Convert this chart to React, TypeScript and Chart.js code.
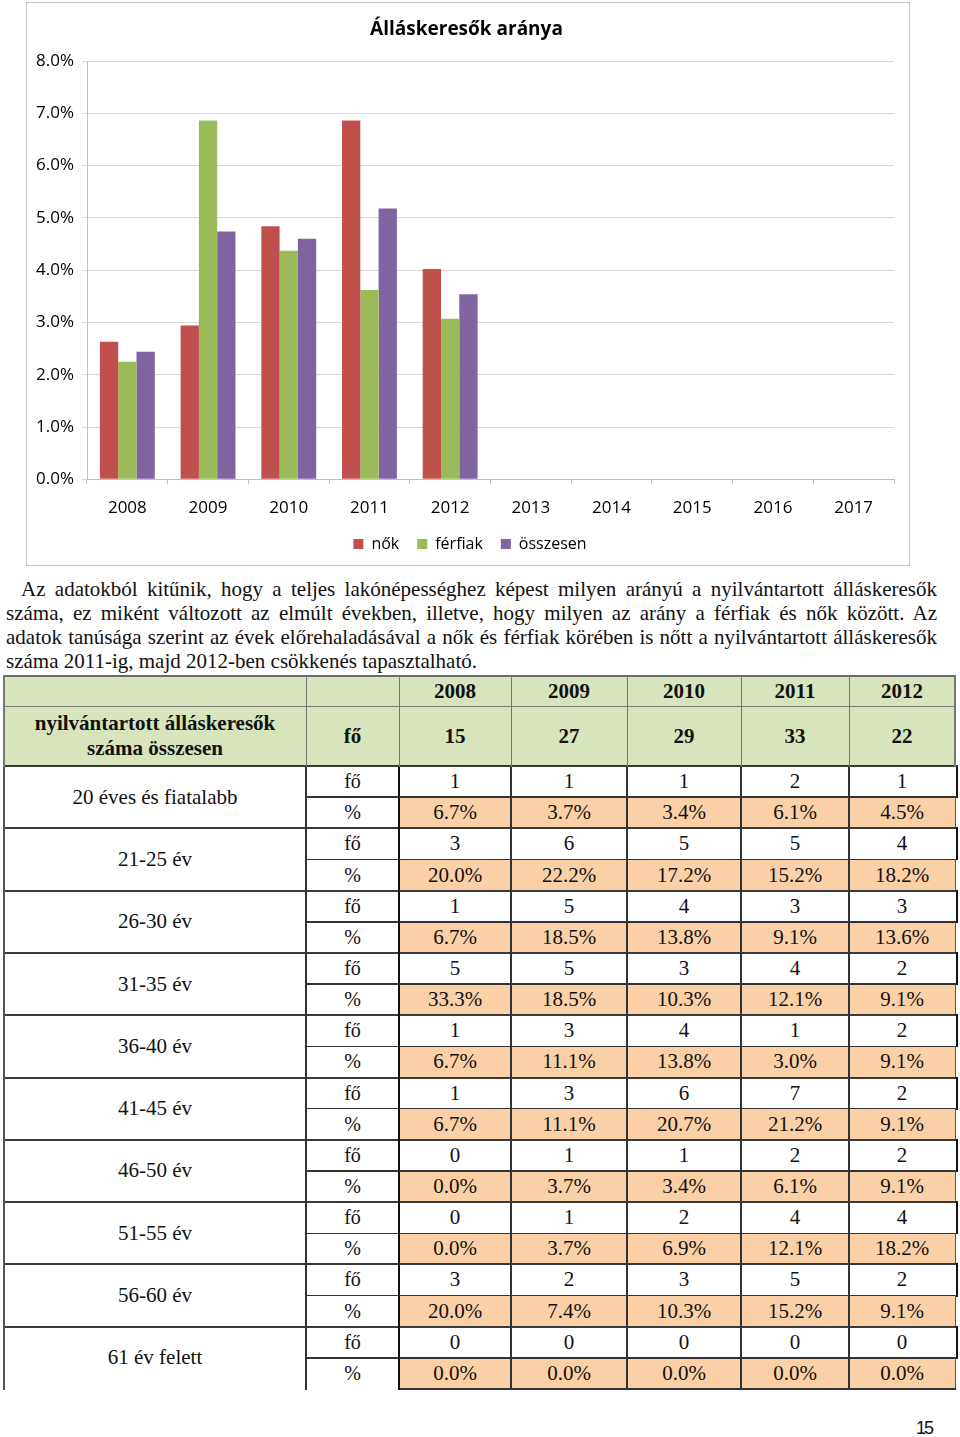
import React, { useEffect, useRef } from "react";
import { Chart, registerables } from "chart.js";

Chart.register(...registerables);

// ---------- chart data ----------
const chartTitle = "Álláskeresők aránya";
const years = ["2008", "2009", "2010", "2011", "2012", "2013", "2014", "2015", "2016", "2017"];
const nok = [2.63, 2.94, 4.84, 6.86, 4.02, null, null, null, null, null];
const ferfiak = [2.25, 6.86, 4.37, 3.62, 3.07, null, null, null, null, null];
const osszesen = [2.44, 4.74, 4.6, 5.18, 3.54, null, null, null, null, null];
const seriesNames = ["nők", "férfiak", "összesen"];
const seriesColors = ["#c0504d", "#9bbb59", "#8064a2"];

// ---------- text ----------
const paragraphLines = [
  "Az adatokból kitűnik, hogy a teljes lakónépességhez képest milyen arányú a nyilvántartott álláskeresők",
  "száma, ez miként változott az elmúlt években, illetve, hogy milyen az arány a férfiak és nők között. Az",
  "adatok tanúsága szerint az évek előrehaladásával a nők és férfiak körében is nőtt a nyilvántartott álláskeresők",
  "száma 2011-ig, majd 2012-ben csökkenés tapasztalható.",
];

// ---------- table data ----------
const tableYears = ["2008", "2009", "2010", "2011", "2012"];
const totalLabel = ["nyilvántartott álláskeresők", "száma összesen"];
const totalCounts = ["15", "27", "29", "33", "22"];
const ageGroups = [
  "20 éves és fiatalabb",
  "21-25 év",
  "26-30 év",
  "31-35 év",
  "36-40 év",
  "41-45 év",
  "46-50 év",
  "51-55 év",
  "56-60 év",
  "61 év felett",
];
const groupCounts = [
  ["1", "1", "1", "2", "1"],
  ["3", "6", "5", "5", "4"],
  ["1", "5", "4", "3", "3"],
  ["5", "5", "3", "4", "2"],
  ["1", "3", "4", "1", "2"],
  ["1", "3", "6", "7", "2"],
  ["0", "1", "1", "2", "2"],
  ["0", "1", "2", "4", "4"],
  ["3", "2", "3", "5", "2"],
  ["0", "0", "0", "0", "0"],
];
const groupPercents = [
  ["6.7%", "3.7%", "3.4%", "6.1%", "4.5%"],
  ["20.0%", "22.2%", "17.2%", "15.2%", "18.2%"],
  ["6.7%", "18.5%", "13.8%", "9.1%", "13.6%"],
  ["33.3%", "18.5%", "10.3%", "12.1%", "9.1%"],
  ["6.7%", "11.1%", "13.8%", "3.0%", "9.1%"],
  ["6.7%", "11.1%", "20.7%", "21.2%", "9.1%"],
  ["0.0%", "3.7%", "3.4%", "6.1%", "9.1%"],
  ["0.0%", "3.7%", "6.9%", "12.1%", "18.2%"],
  ["20.0%", "7.4%", "10.3%", "15.2%", "9.1%"],
  ["0.0%", "0.0%", "0.0%", "0.0%", "0.0%"],
];
const unitPerson = "fő";
const unitPercent = "%";
const pageNumber = "15";

// ---------- layout constants ----------
const COLS = [4, 306, 399, 511, 627, 741, 849, 955];
const T_TOP = 676;
const T_HEAD = 706;
const T_TOTAL = 766;
const GROUP_H = 62.3;
const SUB_H = GROUP_H / 2;
const GREEN = "#d7e4bc";
const ORANGE = "#fcd0a6";
const SERIF = "'Liberation Serif', 'Times New Roman', serif";
const SANS = "'Open Sans', 'Noto Sans', sans-serif";

// shifts the centred title / legend slightly right (they are centred on the page box, not the plot)
const centerShift = {
  id: "centerShift",
  afterLayout(chart: any) {
    const t = chart.titleBlock;
    if (t) {
      t.left += 3.5;
      t.right += 3.5;
    }
    const l = chart.legend;
    if (l) {
      l.left += 7;
      l.right += 7;
    }
  },
};

function BarChart() {
  const ref = useRef<HTMLCanvasElement>(null);
  useEffect(() => {
    if (!ref.current) return;
    const chart = new Chart(ref.current, {
      type: "bar",
      data: {
        labels: years,
        datasets: [
          { label: seriesNames[0], data: nok, backgroundColor: seriesColors[0] },
          { label: seriesNames[1], data: ferfiak, backgroundColor: seriesColors[1] },
          { label: seriesNames[2], data: osszesen, backgroundColor: seriesColors[2] },
        ],
      },
      plugins: [centerShift],
      options: {
        responsive: false,
        animation: false,
        layout: { padding: { left: 6, right: 16, top: 0, bottom: 0 } },
        datasets: { bar: { categoryPercentage: 0.68, barPercentage: 1 } },
        plugins: {
          title: {
            display: true,
            text: chartTitle,
            color: "#000",
            font: { family: SANS, size: 19, weight: "bold" },
            padding: { top: 16.6, bottom: 19.6 },
          },
          legend: {
            position: "bottom",
            labels: {
              boxWidth: 10,
              boxHeight: 10,
              padding: 18,
              color: "#000",
              font: { family: SANS, size: 16 },
            },
          },
          tooltip: { enabled: false },
        },
        scales: {
          x: {
            grid: { drawOnChartArea: false, drawTicks: true, tickLength: 5, color: "#bfbfbf" },
            border: { color: "#bfbfbf" },
            ticks: { color: "#000", font: { family: SANS, size: 17 }, padding: 14, maxRotation: 0, autoSkip: false },
            afterFit: (s: any) => {
              s.height = 38.7;
            },
          },
          y: {
            min: 0,
            max: 8,
            ticks: {
              stepSize: 1,
              color: "#000",
              font: { family: SANS, size: 17 },
              padding: 8,
              callback: (v: any) => Number(v).toFixed(1) + "%",
            },
            grid: { color: "#d9d9d9", tickLength: 5 },
            border: { color: "#bfbfbf" },
            afterFit: (s: any) => {
              s.width = 55;
            },
          },
        },
      },
    });
    return () => chart.destroy();
  }, []);
  return (
    <canvas
      ref={ref}
      width={884}
      height={560}
      style={{ position: "absolute", left: 26, top: 2, width: 884, height: 560 }}
    />
  );
}

function Rect({ x1, x2, y1, y2, bg }: any) {
  return <div style={{ position: "absolute", left: x1, top: y1, width: x2 - x1, height: y2 - y1, background: bg }} />;
}

function Txt({ x1, x2, y1, y2, children, bold, size = 21 }: any) {
  return (
    <div
      style={{
        position: "absolute",
        left: x1,
        top: y1,
        width: x2 - x1,
        height: y2 - y1,
        display: "flex",
        alignItems: "center",
        justifyContent: "center",
        textAlign: "center",
        fontFamily: SERIF,
        fontSize: size,
        fontWeight: bold ? "bold" : "normal",
        lineHeight: "25px",
        color: "#111",
        whiteSpace: "nowrap",
      }}
    >
      {children}
    </div>
  );
}

function H({ x1, x2, y, t = 1.5, c = "#333" }: any) {
  return <div style={{ position: "absolute", left: x1 - t / 2, top: y - t / 2, width: x2 - x1 + t, height: t, background: c }} />;
}
function V({ x, y1, y2, t = 1.5, c = "#333" }: any) {
  return <div style={{ position: "absolute", left: x - t / 2, top: y1 - t / 2, width: t, height: y2 - y1 + t, background: c }} />;
}

function DataTable() {
  const els: any[] = [];
  els.push(<Rect key="gbg" x1={COLS[0]} x2={COLS[7]} y1={T_TOP} y2={T_TOTAL} bg={GREEN} />);
  ageGroups.forEach((_, g) => {
    const top = T_TOTAL + g * GROUP_H;
    els.push(<Rect key={"ob" + g} x1={COLS[2]} x2={COLS[7]} y1={top + SUB_H} y2={top + GROUP_H} bg={ORANGE} />);
  });
  tableYears.forEach((yr, i) => {
    els.push(
      <Txt key={"hy" + i} x1={COLS[i + 2]} x2={COLS[i + 3]} y1={T_TOP} y2={T_HEAD} bold>
        {yr}
      </Txt>
    );
    els.push(
      <Txt key={"tc" + i} x1={COLS[i + 2]} x2={COLS[i + 3]} y1={T_HEAD} y2={T_TOTAL} bold>
        {totalCounts[i]}
      </Txt>
    );
  });
  els.push(
    <Txt key="tl" x1={COLS[0]} x2={COLS[1]} y1={T_HEAD} y2={T_TOTAL} bold>
      <div>
        {totalLabel[0]}
        <br />
        {totalLabel[1]}
      </div>
    </Txt>
  );
  els.push(
    <Txt key="tu" x1={COLS[1]} x2={COLS[2]} y1={T_HEAD} y2={T_TOTAL} bold>
      {unitPerson}
    </Txt>
  );
  ageGroups.forEach((label, g) => {
    const top = T_TOTAL + g * GROUP_H;
    const mid = top + SUB_H;
    const bot = top + GROUP_H;
    els.push(
      <Txt key={"gl" + g} x1={COLS[0]} x2={COLS[1]} y1={top} y2={bot}>
        {label}
      </Txt>
    );
    els.push(
      <Txt key={"uf" + g} x1={COLS[1]} x2={COLS[2]} y1={top} y2={mid} size={20}>
        {unitPerson}
      </Txt>
    );
    els.push(
      <Txt key={"up" + g} x1={COLS[1]} x2={COLS[2]} y1={mid} y2={bot} size={20}>
        {unitPercent}
      </Txt>
    );
    tableYears.forEach((_, i) => {
      els.push(
        <Txt key={"c" + g + "_" + i} x1={COLS[i + 2]} x2={COLS[i + 3]} y1={top} y2={mid}>
          {groupCounts[g][i]}
        </Txt>
      );
      els.push(
        <Txt key={"p" + g + "_" + i} x1={COLS[i + 2]} x2={COLS[i + 3]} y1={mid} y2={bot}>
          {groupPercents[g][i]}
        </Txt>
      );
    });
    if (g > 0) els.push(<H key={"gt" + g} x1={COLS[0]} x2={957} y={top} t={2} c="#3a3a3a" />);
    els.push(<H key={"gm" + g} x1={COLS[1]} x2={957} y={mid} t={1.5} c="#333" />);
    els.push(<V key={"rf" + g} x={957} y1={top} y2={mid} t={2} c="#111" />);
    els.push(<V key={"rp" + g} x={COLS[7]} y1={mid} y2={bot} t={1} c="#555" />);
  });
  const endY = T_TOTAL + ageGroups.length * GROUP_H;
  els.push(<H key="end" x1={COLS[2]} x2={COLS[7]} y={endY} t={1.5} c="#333" />);
  els.push(<V key="v0" x={COLS[0]} y1={T_TOTAL} y2={endY} t={1.5} c="#555" />);
  els.push(<V key="v1" x={COLS[1]} y1={T_TOTAL} y2={endY} t={1.5} c="#333" />);
  els.push(<V key="v2" x={COLS[2]} y1={T_TOTAL} y2={endY} t={2.2} c="#111" />);
  [3, 4, 5, 6].forEach((k) => els.push(<V key={"vd" + k} x={COLS[k]} y1={T_TOTAL} y2={endY} t={1.5} c="#333" />));
  els.push(<H key="ht" x1={COLS[0]} x2={COLS[7]} y={T_TOP} t={1.5} c="#6a6a6a" />);
  els.push(<H key="hh" x1={COLS[0]} x2={COLS[7]} y={T_HEAD} t={1} c="#7a7a7a" />);
  els.push(<H key="htt" x1={COLS[0]} x2={957} y={T_TOTAL} t={2} c="#3a3a3a" />);
  COLS.forEach((x, k) =>
    els.push(<V key={"gv" + k} x={x} y1={T_TOP} y2={T_TOTAL} t={k === 0 || k === 7 ? 1.5 : 1} c="#777" />)
  );
  return <>{els}</>;
}

export default function App() {
  return (
    <div
      style={{
        position: "absolute",
        left: 0,
        top: 0,
        width: 960,
        height: 1437,
        overflow: "hidden",
        background: "#fff",
      }}
    >
      <div
        style={{
          position: "absolute",
          left: 26,
          top: 2,
          width: 884,
          height: 564,
          border: "1px solid #c4c4c4",
          boxSizing: "border-box",
        }}
      />
      <BarChart />
      {paragraphLines.map((line, i) => {
        const last = i === paragraphLines.length - 1;
        const left = i === 0 ? 21 : 6;
        return (
          <div
            key={i}
            style={{
              position: "absolute",
              left,
              top: 577 + i * 24,
              width: 937 - left,
              height: 24,
              lineHeight: "24px",
              fontFamily: SERIF,
              fontSize: 21,
              color: "#111",
              whiteSpace: "nowrap",
              textAlign: last ? "left" : "justify",
              textAlignLast: last ? "left" : "justify",
            }}
          >
            {line}
          </div>
        );
      })}
      <DataTable />
      <div
        style={{
          position: "absolute",
          left: 916,
          top: 1418,
          fontFamily: "'Liberation Sans', Arial, sans-serif",
          fontSize: 18,
          letterSpacing: -2,
          color: "#111",
          lineHeight: "20px",
        }}
      >
        {pageNumber}
      </div>
    </div>
  );
}
